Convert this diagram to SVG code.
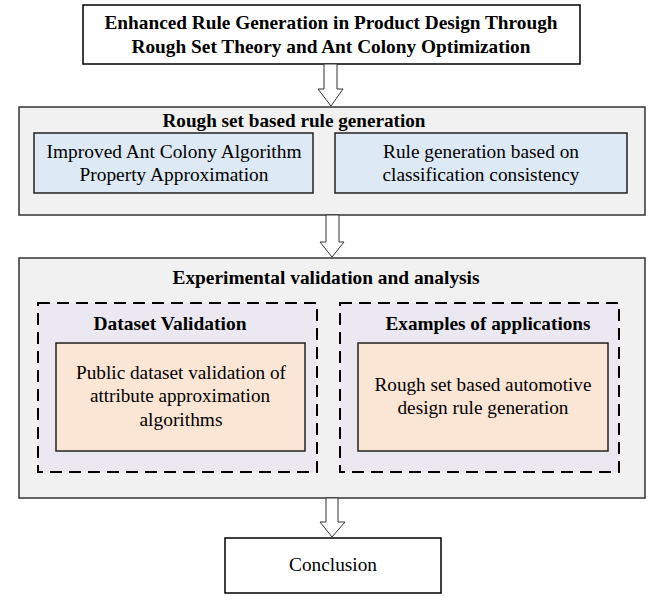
<svg xmlns="http://www.w3.org/2000/svg" width="665" height="606" viewBox="0 0 665 606">
<style>
text{font-family:"Liberation Serif","Times New Roman",serif;fill:#000;text-anchor:middle}
.b{font-weight:bold;font-size:19px}
.r{font-size:19.5px}
.white{fill:#fff;stroke:#000;stroke-width:1.5}
.gray{fill:#f1f1f1;stroke:#333;stroke-width:1.5}
.blue{fill:#dde9f4;stroke:#222;stroke-width:1.5}
.dash{fill:#ebe8f1;stroke:#000;stroke-width:2;stroke-dasharray:12 7}
.peach{fill:#fbe5d5;stroke:#222;stroke-width:1.5}
.arrow{fill:#fff;stroke:#333;stroke-width:1}
</style>
<rect x="0" y="0" width="665" height="606" fill="#fff"/>
<g id="title">
<rect class="white" x="83" y="5" width="497" height="59"/>
<text class="b" x="331" y="29" textLength="453" lengthAdjust="spacingAndGlyphs">Enhanced Rule Generation in Product Design Through</text>
<text class="b" x="331" y="53" textLength="399" lengthAdjust="spacingAndGlyphs">Rough Set Theory and Ant Colony Optimization</text>
</g>
<g id="rough-set">
<rect class="gray" x="19" y="107" width="626" height="108"/>
<text class="b" x="294" y="127" textLength="263" lengthAdjust="spacingAndGlyphs">Rough set based rule generation</text>
</g>
<g id="ant-colony">
<rect class="blue" x="34" y="133" width="279" height="60"/>
<text class="r" x="174" y="158" textLength="255" lengthAdjust="spacingAndGlyphs">Improved Ant Colony Algorithm</text>
<text class="r" x="174" y="181" textLength="189" lengthAdjust="spacingAndGlyphs">Property Approximation</text>
</g>
<g id="rule-gen">
<rect class="blue" x="335" y="133" width="292" height="60"/>
<text class="r" x="481" y="158" textLength="196" lengthAdjust="spacingAndGlyphs">Rule generation based on</text>
<text class="r" x="481" y="181" textLength="197" lengthAdjust="spacingAndGlyphs">classification consistency</text>
</g>
<g id="experimental">
<rect class="gray" x="19" y="258" width="626" height="240"/>
<text class="b" x="326" y="284" textLength="307" lengthAdjust="spacingAndGlyphs">Experimental validation and analysis</text>
</g>
<g id="dataset-validation">
<rect class="dash" x="38" y="303" width="279" height="169"/>
<text class="b" x="170" y="330" textLength="153" lengthAdjust="spacingAndGlyphs">Dataset Validation</text>
</g>
<g id="public-dataset">
<rect class="peach" x="56" y="343" width="249" height="108"/>
<text class="r" x="181" y="379" textLength="210" lengthAdjust="spacingAndGlyphs">Public dataset validation of</text>
<text class="r" x="180" y="402" textLength="180" lengthAdjust="spacingAndGlyphs">attribute approximation</text>
<text class="r" x="181" y="426" textLength="83" lengthAdjust="spacingAndGlyphs">algorithms</text>
</g>
<g id="examples">
<rect class="dash" x="340" y="303" width="279" height="169"/>
<text class="b" x="488" y="330" textLength="205" lengthAdjust="spacingAndGlyphs">Examples of applications</text>
</g>
<g id="automotive">
<rect class="peach" x="358" y="343" width="250" height="108"/>
<text class="r" x="483" y="391" textLength="217" lengthAdjust="spacingAndGlyphs">Rough set based automotive</text>
<text class="r" x="483" y="414" textLength="171" lengthAdjust="spacingAndGlyphs">design rule generation</text>
</g>
<g id="conclusion">
<rect class="white" x="225" y="538" width="216" height="55"/>
<text class="r" x="333" y="571" textLength="88" lengthAdjust="spacingAndGlyphs">Conclusion</text>
</g>
<g id="connectors">
<path class="arrow" d="M324,64 H337 V89 H343 L331,106 L318,89 H324 Z"/>
<path class="arrow" d="M326,215 H339 V242 H344 L332,257 L320,242 H326 Z"/>
<path class="arrow" d="M326,498 H338 V522 H345 L332,537 L320,522 H326 Z"/>
</g>
</svg>
